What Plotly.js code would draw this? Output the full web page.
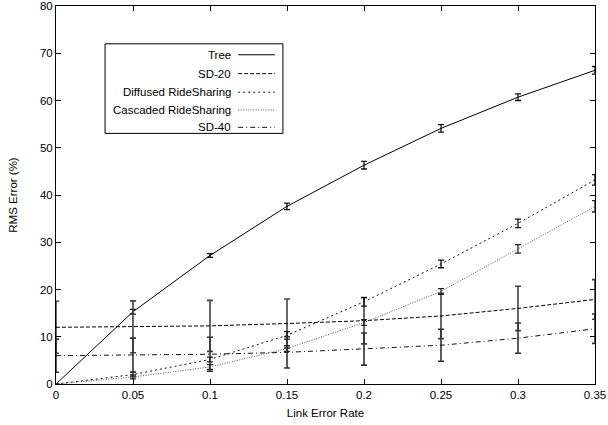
<!DOCTYPE html>
<html>
<head>
<meta charset="utf-8">
<script src="https://cdn.plot.ly/plotly-3.0.1.min.js"></script>
<style>html,body{margin:0;padding:0;background:#fff;}#chart{width:608px;height:425px;}</style>
</head>
<body>
<div id="chart"></div>
<script>
// Data
const linkErrorRate = [0, 0.05, 0.1, 0.15, 0.2, 0.25, 0.3, 0.35];

const treeRms      = [0, 15.3, 27.2, 37.6, 46.3, 54.1, 60.7, 66.4];
const treeErr      = [0, 0.5, 0.4, 0.7, 0.8, 0.8, 0.7, 0.8];

const sd20Rms      = [12.0, 12.1, 12.3, 12.8, 13.4, 14.4, 16.0, 17.9];
const sd20Err      = [5.5, 5.5, 5.4, 5.2, 4.9, 4.8, 4.7, 4.2];

const diffusedRms  = [0, 2.0, 5.2, 10.3, 17.4, 25.4, 34.0, 43.2];
const diffusedErr  = [0, 0.5, 0.5, 0.8, 0.9, 0.8, 0.9, 1.1];

const cascadedRms  = [0, 1.5, 3.6, 7.5, 13.0, 19.6, 28.6, 37.6];
const cascadedErr  = [0, 0.4, 0.5, 0.6, 0.6, 0.6, 0.9, 1.2];

const sd40Rms      = [6.0, 6.1, 6.3, 6.7, 7.4, 8.2, 9.7, 11.7];
const sd40Err      = [3.5, 3.6, 3.6, 3.3, 3.4, 3.4, 3.2, 3.1];

const seriesNames = ["Tree", "SD-20", "Diffused RideSharing", "Cascaded RideSharing", "SD-40"];
const xTickVals = [0, 0.05, 0.1, 0.15, 0.2, 0.25, 0.3, 0.35];
const xTickText = ["0", "0.05", "0.1", "0.15", "0.2", "0.25", "0.3", "0.35"];
const yTickVals = [0, 10, 20, 30, 40, 50, 60, 70, 80];

const styles = [
  {color: "#000000", dash: "solid", errColor: "#111111", errW: 1.3},
  {color: "#000000", dash: "4px,2px", errColor: "#444444", errW: 1.6},
  {color: "#111111", dash: "2px,3px", errColor: "#111111", errW: 1.3},
  {color: "#555555", dash: "1px,1.5px", errColor: "#222222", errW: 1.3},
  {color: "#111111", dash: "5px,3px,1px,3px", errColor: "#333333", errW: 1.6}
];
const ys = [treeRms, sd20Rms, diffusedRms, cascadedRms, sd40Rms];
const es = [treeErr, sd20Err, diffusedErr, cascadedErr, sd40Err];

const traces = ys.map((y, i) => ({
  type: "scatter", mode: "lines", name: seriesNames[i],
  x: linkErrorRate, y: y,
  line: {color: styles[i].color, width: 1, dash: styles[i].dash},
  error_y: {type: "data", array: es[i], visible: true, color: styles[i].errColor, thickness: styles[i].errW, width: 3},
  showlegend: false, hoverinfo: "skip"
}));

// Custom gnuplot-style legend (text right-aligned, sample line to the right)
const legY = [0.871, 0.821, 0.772, 0.725, 0.679];
const fontFam = "Liberation Sans, Arial, sans-serif";
const annotations = seriesNames.map((n, i) => ({
  xref: "paper", yref: "paper", x: 0.329, y: legY[i], xanchor: "right", yanchor: "middle",
  text: n, showarrow: false, font: {family: fontFam, size: 11.5, color: "#000"}
}));
const shapes = [{
  type: "rect", xref: "paper", yref: "paper", x0: 0.091, x1: 0.421, y0: 0.663, y1: 0.9,
  line: {color: "#000", width: 1}, fillcolor: "#fff", layer: "below"
}].concat(seriesNames.map((n, i) => ({
  type: "line", xref: "paper", yref: "paper", x0: 0.338, x1: 0.406, y0: legY[i], y1: legY[i],
  line: {color: styles[i].color, width: 1, dash: styles[i].dash}
})));

const axisCommon = {
  showgrid: false, zeroline: false, showline: true, linecolor: "#000", linewidth: 1,
  mirror: "ticks", ticks: "inside", ticklen: 5, tickcolor: "#000", tickwidth: 1,
  ticklabeloverflow: "allow",
  tickfont: {family: fontFam, size: 11.5, color: "#000"}
};

const layout = {
  width: 608, height: 425,
  margin: {l: 56, r: 13, t: 6, b: 41},
  paper_bgcolor: "#fff", plot_bgcolor: "rgba(0,0,0,0)",
  showlegend: false,
  xaxis: Object.assign({}, axisCommon, {
    range: [0, 0.35], tickmode: "array", tickvals: xTickVals, ticktext: xTickText,
    title: {text: "Link Error Rate", standoff: 9, font: {family: fontFam, size: 11.5, color: "#000"}}
  }),
  yaxis: Object.assign({}, axisCommon, {
    range: [0, 80], tickmode: "array", tickvals: yTickVals,
    title: {text: "RMS Error (%)", standoff: 19, font: {family: fontFam, size: 11.5, color: "#000"}}
  }),
  annotations: annotations,
  shapes: shapes
};

Plotly.newPlot("chart", traces, layout, {staticPlot: true, displayModeBar: false});
</script>
</body>
</html>
